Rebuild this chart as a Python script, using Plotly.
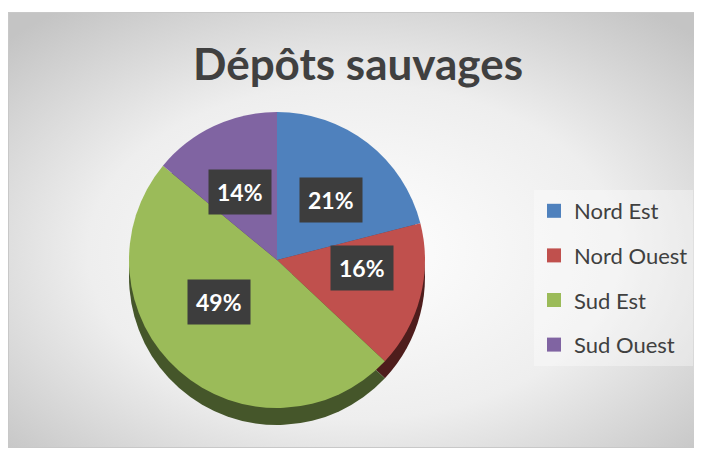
import math, base64
import plotly.graph_objects as go

categories = ["Nord Est", "Nord Ouest", "Sud Est", "Sud Ouest"]
values = [21, 16, 49, 14]
colors = ["#4f81bd", "#c0504d", "#9bbb59", "#8064a2"]
side_colors = ["#2f4d72", "#4e1d1c", "#45562a", "#4a3a5f"]

W, H = 702, 457
OFF = 8  # page body margin
cx_px, cy_px, r_px = 277, 260, 148
depth = 17

def px(x):
    return (x - OFF) / W

def py(y):
    return 1 - (y - OFF) / H

def domain(cx, cy, r):
    return dict(x=[px(cx - r), px(cx + r)], y=[py(cy + r), py(cy - r)])

fig = go.Figure()
fig.add_trace(go.Pie(labels=categories, values=values, sort=False,
                     direction="clockwise", rotation=0,
                     marker=dict(colors=side_colors, line=dict(width=0)),
                     textinfo="none", hoverinfo="skip", showlegend=False,
                     domain=domain(cx_px, cy_px + depth, r_px)))
fig.add_trace(go.Pie(labels=categories, values=values, sort=False,
                     direction="clockwise", rotation=0,
                     marker=dict(colors=colors, line=dict(width=0)),
                     textinfo="none", showlegend=False,
                     domain=domain(cx_px, cy_px, r_px)))

for cat, col in zip(categories, colors):
    fig.add_trace(go.Scatter(x=[None], y=[None], mode="markers", name=cat,
                             legendgroup=cat,
                             marker=dict(symbol="square", size=14, color=col)))

total = sum(values)
cum = 0
annotations = []
lcx, lcy, lrx, lry = 277, 252, 88, 66
for v in values:
    mid = (cum + v / 2) / total * 2 * math.pi
    cum += v
    x = lcx + lrx * math.sin(mid)
    y = lcy - lry * math.cos(mid)
    annotations.append(dict(x=px(x), y=py(y), xref="paper", yref="paper",
                            xanchor="center", yanchor="middle",
                            text=f"<b>{round(v / total * 100)}%</b>",
                            showarrow=False, bgcolor="#3d3d3d", borderpad=8,
                            font=dict(family="Lato", size=23, color="white")))

svg = '''<svg xmlns="http://www.w3.org/2000/svg" width="692" height="436">
<defs><radialGradient id="g" cx="50%" cy="55%" r="70%">
<stop offset="0%" stop-color="#ffffff"/><stop offset="55%" stop-color="#eeeeee"/>
<stop offset="100%" stop-color="#c4c4c4"/></radialGradient></defs>
<rect x="0.5" y="0.5" width="691" height="435" fill="url(#g)" stroke="#c8c8c8" stroke-width="1"/>
</svg>'''
src = "data:image/svg+xml;base64," + base64.b64encode(svg.encode()).decode()

fig.update_layout(
    width=W, height=H,
    margin=dict(l=0, r=0, t=0, b=0, autoexpand=False),
    paper_bgcolor="white", plot_bgcolor="rgba(0,0,0,0)",
    images=[dict(source=src, xref="paper", yref="paper", x=px(8), y=py(12),
                 sizex=692 / W, sizey=436 / H, sizing="stretch", layer="below",
                 xanchor="left", yanchor="top")],
    title=dict(text="<b>Dépôts sauvages</b>", x=px(358), xanchor="center",
               y=py(65), yanchor="middle",
               font=dict(family="Lato", size=44, color="#404040")),
    xaxis=dict(visible=False), yaxis=dict(visible=False),
    legend=dict(x=px(534), y=py(190), xanchor="left", yanchor="top",
                bgcolor="rgba(255,255,255,0.35)", tracegroupgap=13,
                font=dict(family="Lato", size=22, color="#404040"),
                itemwidth=30),
    annotations=annotations,
)

fig.write_html("out.html")
